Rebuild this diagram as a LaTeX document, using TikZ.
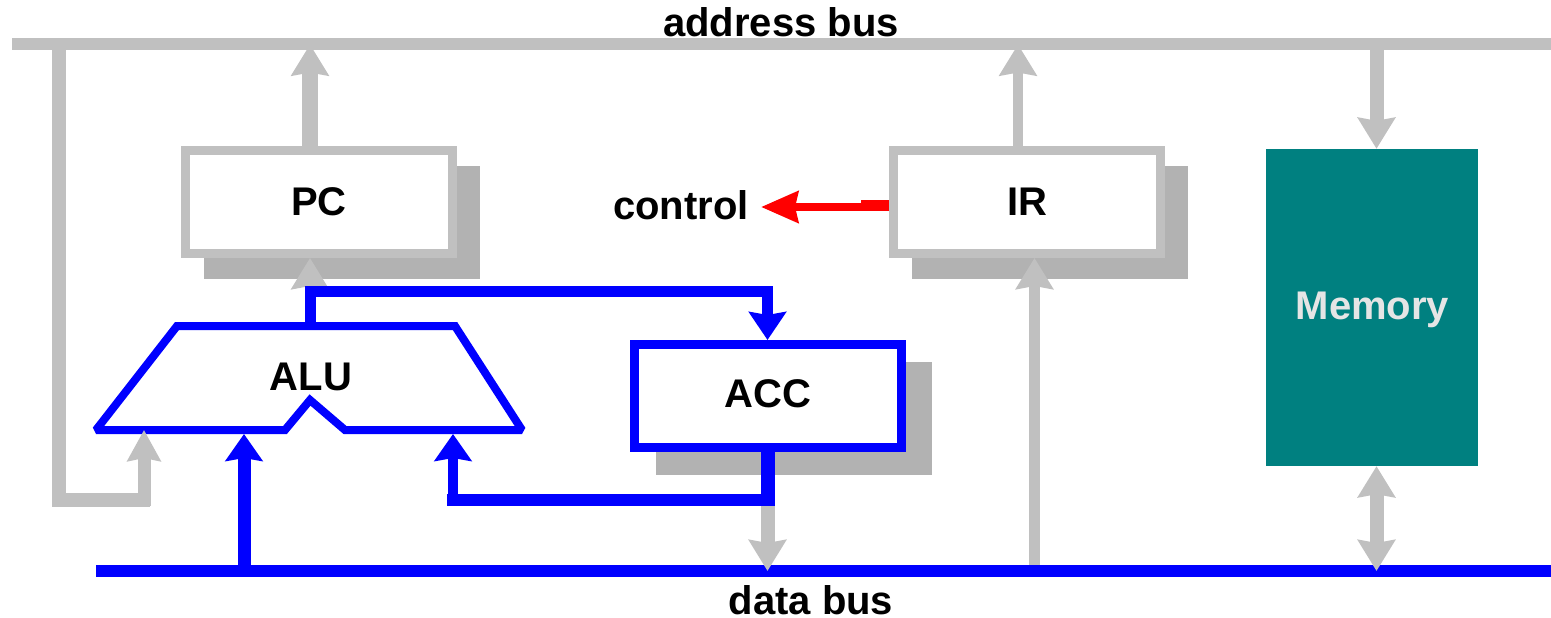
\documentclass[tikz,border=0pt]{standalone}
\usepackage{fontspec}
\setmainfont{Liberation Sans}
\usetikzlibrary{arrows.meta,calc}
\definecolor{busgray}{RGB}{192, 192, 192}
\definecolor{shadowgray}{RGB}{178, 178, 178}
\definecolor{memteal}{RGB}{0, 128, 128}
\tikzset{
    lbl/.style={font=\fontsize{40}{40}\selectfont\bfseries, text=black},
    shadowbox/.style={fill=shadowgray, minimum width=276pt, minimum height=113pt, inner sep=0pt},
    regbox/.style={draw=#1, fill=white, line width=9pt, minimum width=267pt, minimum height=103pt, inner sep=0pt, lbl},
    bus/.style={fill=#1, minimum height=12pt, inner sep=0pt},
    tip/.style={-{Stealth[length=31pt, width=37pt, inset=3pt]}},
    bitip/.style={{Stealth[length=31pt, width=37pt, inset=3pt]}-{Stealth[length=31pt, width=37pt, inset=3pt]}},
    grayline/.style={draw=busgray, line width=#1, line join=miter},
    blueline/.style={draw=blue, line width=#1, line join=miter}
}
\begin{document}
\begin{tikzpicture}[x=1pt, y=-1pt]
    \useasboundingbox (0,0) rectangle (1551,618);
    % buses
    \node[bus=busgray, minimum width=1539pt] (addrbus) at (781.5,44.5) {};
    \node[bus=blue, minimum width=1455pt] (databus) at (823.5,571) {};
    \node[lbl, anchor=center] (addrlabel) at (781,22) {address bus};
    \node[lbl, anchor=center, inner sep=0pt] (datalabel) at (811,600) {data bus};
    % registers and their shadows
    \node[shadowbox] (pcshadow) at (342,222.5) {};
    \node[shadowbox] (irshadow) at (1050,222.5) {};
    \node[shadowbox] (accshadow) at (794,418) {};
    \node[regbox=busgray] (pcbox) at (319,202) {PC};
    \node[regbox=busgray] (irbox) at (1027,202) {IR};
    \node[regbox=blue] (accbox) at (767.5,396) {};
    \node[lbl] (acclabel) at (768,394) {ACC};
    \node[fill=memteal, minimum width=212pt, minimum height=317pt, inner sep=0pt] (membox) at (1372,307.5) {};
    \node[lbl, text=white!90!black] (memlabel) at (1372.5,310) {Memory};
    \node[lbl, inner xsep=13pt] (control) at (681,205) {control};
    % ALU outline
    \coordinate (alutop) at (310,326);
    \node[lbl] (alulabel) at (311,377) {ALU};
    \draw[blueline=8pt, miter limit=2] (96,430) -- (177,326) -- (alutop) -- (455,326) -- (522,430) -- (345,430) -- (310,400) -- (285,430) -- cycle;
    % where the lines run
    \coordinate (pcx) at (310,0);
    \coordinate (pcin) at (310,290);
    \coordinate (irupx) at (1018,0);
    \coordinate (irdownx) at (1034.5,0);
    \coordinate (memx) at (1376.5,0);
    \coordinate (leftx) at (59,0);
    \coordinate (alua) at (144,430);
    \coordinate (alub) at (244,434);
    \coordinate (aluc) at (453,434);
    \coordinate (accturn) at (767.5,500);
    \coordinate (accin) at (767.5,291);
    \coordinate (ctrlend) at (761,207);
    \coordinate (ctrlstep) at (861,205.5);
    % grey lines
    \draw[grayline=16pt, tip] (pcx |- pcbox.north) -- (pcx |- addrbus.center);
    \draw[grayline=10pt, tip] (irupx |- irbox.north) -- (irupx |- addrbus.center);
    \draw[grayline=14pt, tip] (memx |- addrbus.center) -- (memx |- membox.north);
    \draw[grayline=14pt, bitip] (memx |- membox.south) -- (memx |- databus.center);
    \draw[grayline=11pt, tip] (irdownx |- databus.north) -- (irdownx |- irbox.south);
    \draw[grayline=14pt] (leftx |- addrbus.center) -- (leftx |- accturn) -- (150,500);
    \draw[grayline=13pt, -{Stealth[length=31pt, width=33pt, inset=3pt]}] (144,506) -- (alua);
    \draw[grayline=14pt, tip] (accturn) -- (accturn |- databus.center);
    \draw[grayline=10pt, tip] (pcin) -- (pcx |- pcbox.south);
    % blue lines
    \draw[blueline=11pt, -{Stealth[length=28pt, width=37pt, inset=3pt]}] (alutop) |- (accin) -- (accin |- accbox.north);
    \draw[blueline=13pt, -{Stealth[length=27pt, width=37pt, inset=3pt]}] (alub |- databus.north) -- (alub);
    \draw[blueline=14pt] (accbox.south) -- ([yshift=-6pt]accturn);
    \draw[blueline=12pt] (accturn) -- (447,500);
    \draw[blueline=10pt, -{Stealth[length=27pt, width=37pt, inset=3pt]}] (453,506) -- (aluc);
    % control
    \draw[red, line width=8pt, -{Stealth[length=37pt, width=31pt, inset=3pt]}] (irbox.west |- ctrlend) -- (ctrlend);
    \draw[red, line width=11pt] (irbox.west |- ctrlstep) -- (ctrlstep);
\end{tikzpicture}
\end{document}
